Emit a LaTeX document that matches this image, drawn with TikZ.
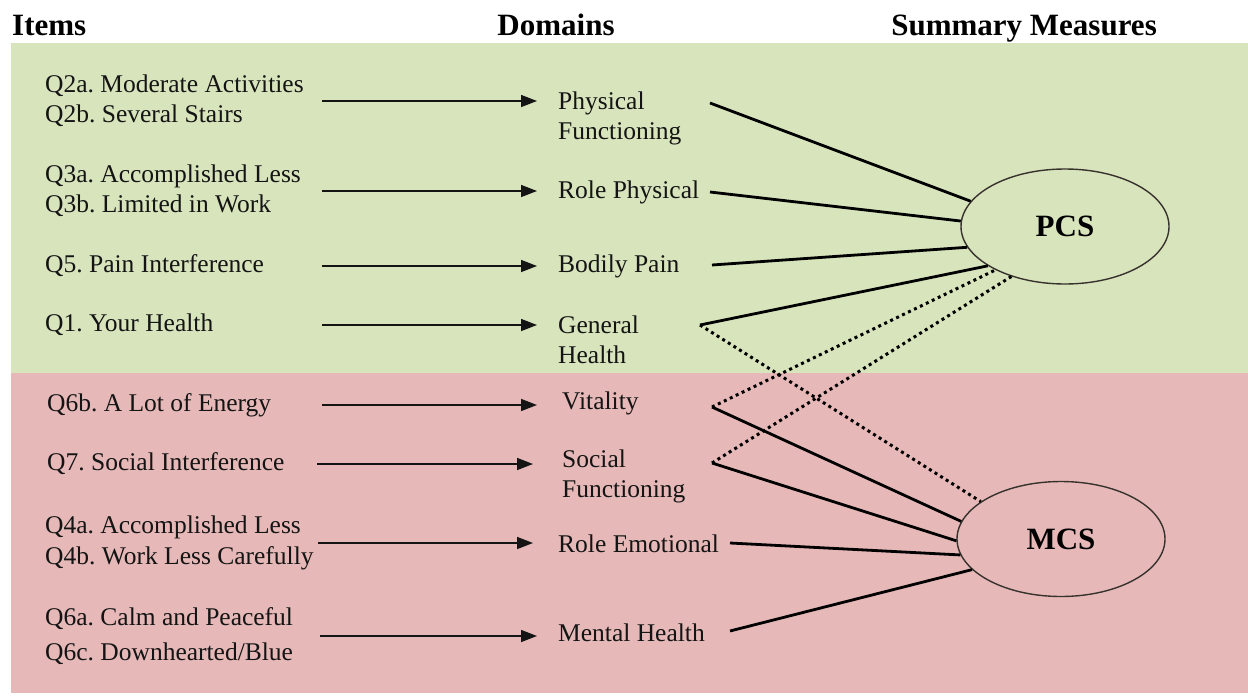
\documentclass[tikz,border=0pt]{standalone}
\usepackage{fontspec}
\setmainfont{Liberation Serif}
\usetikzlibrary{arrows.meta,shapes.geometric}
\definecolor{bandgreen}{RGB}{216,228,188}
\definecolor{bandpink}{RGB}{230,185,184}
\definecolor{ink}{RGB}{20,20,20}
\definecolor{rim}{RGB}{55,50,45}
\tikzset{
  hdr/.style={font=\fontsize{31}{36}\selectfont\bfseries, inner sep=0pt},
  item/.style={font=\fontsize{25.5}{30}\selectfont\frenchspacing, inner sep=0pt, anchor=west, align=left, text=ink},
  dom/.style={font=\fontsize{25.5}{30}\selectfont\frenchspacing, inner sep=0pt, anchor=west, align=left, text=ink},
  arr/.style={draw=ink, line width=1.5pt, -{Triangle[length=16pt,width=12pt]}},
  load/.style={draw=black, line width=2.8pt},
  cross/.style={draw=black, line width=3pt, dash pattern=on 3pt off 3.6pt},
  meas/.style={ellipse, draw=rim, line width=1.4pt, minimum width=208pt, minimum height=115pt, inner sep=0pt, font=\fontsize{31}{36}\selectfont\bfseries}
}
\begin{document}
\begin{tikzpicture}[x=1pt,y=-1pt]
\useasboundingbox (0,0) rectangle (1248,696);
\fill[white] (0,0) rectangle (1248,696);
\fill[bandgreen] (11,43) rectangle (1248,373);
\fill[bandpink] (11,373) rectangle (1248,693);

% headers
\node[hdr, anchor=base west] (hitems) at (12,35) {Items};
\node[hdr, anchor=base] (hdom) at (556,35) {Domains};
\node[hdr, anchor=base east] (hsum) at (1157,35) {Summary Measures};

% items
\node[item] (q2) at (45,101) {Q2a. Moderate Activities\\Q2b. Several Stairs};
\node[item] (q3) at (45,191) {Q3a. Accomplished Less\\Q3b. Limited in Work};
\node[item] (q5) at (45,266) {Q5. Pain Interference};
\node[item] (q1) at (45,325) {Q1. Your Health};
\node[item] (q6b) at (47,405) {Q6b. A Lot of Energy};
\node[item] (q7) at (47,464) {Q7. Social Interference};
\node[item, font=\fontsize{25.5}{31}\selectfont\frenchspacing] (q4) at (45,543) {Q4a. Accomplished Less\\Q4b. Work Less Carefully};
\node[item, font=\fontsize{25.5}{35}\selectfont\frenchspacing] (q6) at (45,636) {Q6a. Calm and Peaceful\\Q6c. Downhearted/Blue};

% domains
\node[dom] (pf) at (558,118) {Physical\\Functioning};
\node[dom] (rp) at (558,192) {Role Physical};
\node[dom] (bp) at (558,266) {Bodily Pain};
\node[dom] (gh) at (558,340) {General\\Health};
\node[dom] (vit) at (562,403) {Vitality};
\node[dom] (sf) at (562,476) {Social\\Functioning};
\node[dom] (re) at (558,544) {Role Emotional};
\node[dom] (mh) at (558,633) {Mental Health};

% summary measures
\node[meas] (pcs) at (1065,226.5) {PCS};
\node[meas] (mcs) at (1061,539) {MCS};

% arrows items -> domains
\draw[arr] ([xshift=277pt]q2.west) -- ([xshift=-21pt]q2.west -| pf.west);
\draw[arr] ([xshift=277pt]q3.west) -- ([xshift=-21pt]q3.west -| rp.west);
\draw[arr] ([xshift=277pt]q5.west) -- ([xshift=-21pt]q5.west -| bp.west);
\draw[arr] ([xshift=277pt]q1.west) -- ([xshift=-21pt]q1.west -| gh.west);
\draw[arr] ([xshift=275pt]q6b.west) -- ([xshift=-25pt]q6b.west -| vit.west);
\draw[arr] ([xshift=270pt]q7.west) -- ([xshift=-29pt]q7.west -| sf.west);
\draw[arr] ([xshift=273pt]q4.west) -- ([xshift=-25pt]q4.west -| re.west);
\draw[arr] ([xshift=275pt]q6.west) -- ([xshift=-21pt]q6.west -| mh.west);

% line starts beside the domains
\coordinate (pfo) at (710,103);
\coordinate (rpo) at (710,192);
\coordinate (bpo) at (712,265);
\coordinate (gho) at (700,325);
\coordinate (vito) at (712,407);
\coordinate (sfo) at (712,463);
\coordinate (reo) at (730,543);
\coordinate (mho) at (730,631);

% domains -> summary measures
\draw[load] (pfo) -- (pcs.165.5);
\draw[load] (rpo) -- (pcs.177);
\draw[load] (bpo) -- (pcs.192);
\draw[load] (gho) -- (pcs.207);
\draw[cross] (gho) -- (mcs.155);
\draw[cross] (vito) -- (pcs.212.5);
\draw[cross] (sfo) -- (pcs.223);
\draw[load] (vito) -- (mcs.170.5);
\draw[load] (sfo) -- (mcs.181.5);
\draw[load] (reo) -- (mcs.189);
\draw[load] (mho) -- (mcs.199.6);
\end{tikzpicture}
\end{document}
